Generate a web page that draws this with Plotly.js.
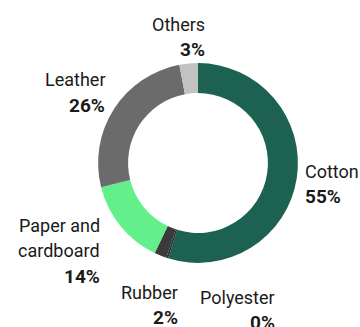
<!DOCTYPE html>
<html><head><meta charset="utf-8">
<script src="https://cdn.plot.ly/plotly-3.0.1.min.js"></script>
<style>html,body{margin:0;padding:0;background:#fff}</style>
</head><body><div id="chart" style="width:360px;height:327px"></div>
<script>
var categories = ["Cotton", "Polyester", "Rubber", "Paper and|cardboard", "Leather", "Others"];
var shares = [55, 0.3, 2, 14, 26, 3];
var shareLabels = ["55%", "0%", "2%", "14%", "26%", "3%"];
var colors = ["#1c6152", "#2a2a2a", "#3b3b3b", "#63f08a", "#6b6b6b", "#c2c2c2"];

// label placement (pixels): anchor x, center y of first line, alignment
var labelPlacement = [
  {x: 303, y: 171, anchor: "left"},
  {x: 277, y: 297, anchor: "right"},
  {x: 180, y: 292, anchor: "right"},
  {x: 102, y: 225, anchor: "right"},
  {x: 107, y: 80,  anchor: "right"},
  {x: 207, y: 24,  anchor: "right"}
];
var W = 360, H = 327, LINE = 25.5;
var FONT = "Roboto, sans-serif";

var annotations = [];
categories.forEach(function(cat, i) {
  var lines = cat.split("|").map(function(s){ return {t: s, bold: false}; });
  lines.push({t: shareLabels[i], bold: true});
  var p = labelPlacement[i];
  lines.forEach(function(ln, k) {
    annotations.push({
      xref: "paper", yref: "paper",
      x: p.x / W, y: 1 - (p.y + k * LINE) / H,
      xanchor: p.anchor, yanchor: "middle",
      text: ln.bold ? "<b>" + ln.t + "</b>" : ln.t,
      showarrow: false,
      font: {family: FONT, size: ln.bold ? 19 : 18, color: "#1a1a1a"}
    });
  });
});

Plotly.newPlot("chart", [{
  type: "pie",
  labels: categories.map(function(c){ return c.replace("|", " "); }),
  values: shares,
  textinfo: "none",
  hole: 0.70,
  sort: false,
  direction: "clockwise",
  rotation: 0,
  marker: {colors: colors, line: {width: 0}},
  domain: {x: [0.272, 0.828], y: [0.196, 0.807]},
  showlegend: false
}], {
  width: W, height: H,
  margin: {l: 0, r: 0, t: 0, b: 0},
  paper_bgcolor: "#fff",
  showlegend: false,
  annotations: annotations
}, {displayModeBar: false, staticPlot: true});
</script></body></html>
